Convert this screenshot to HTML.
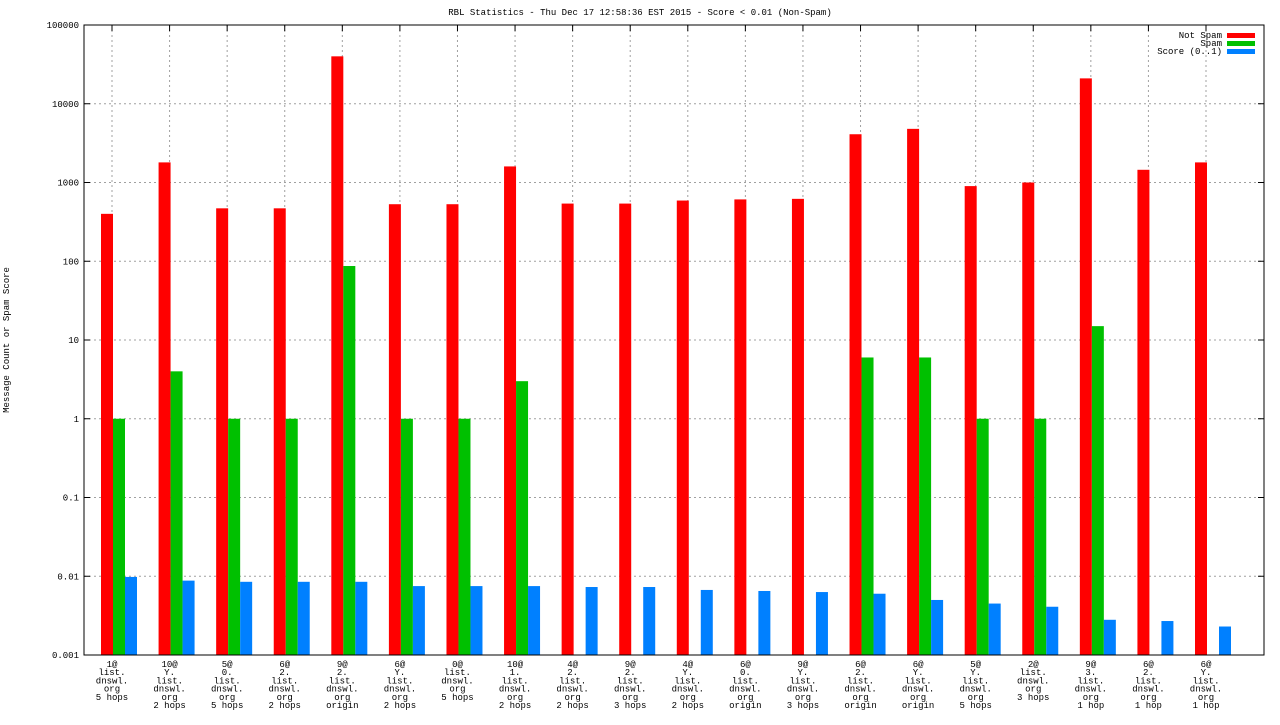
<!DOCTYPE html>
<html><head><meta charset="utf-8"><style>
body{margin:0;background:#fff}
svg text{font-family:"Liberation Mono","DejaVu Sans Mono",monospace;font-size:9px;fill:#000}
</style></head><body>
<svg id="c" width="1280" height="720"></svg>
<script>
const categories=[["1@","list.","dnswl.","org","5 hops"],["10@","Y.","list.","dnswl.","org","2 hops"],["5@","0.","list.","dnswl.","org","5 hops"],["6@","2.","list.","dnswl.","org","2 hops"],["9@","2.","list.","dnswl.","org","origin"],["6@","Y.","list.","dnswl.","org","2 hops"],["0@","list.","dnswl.","org","5 hops"],["10@","1.","list.","dnswl.","org","2 hops"],["4@","2.","list.","dnswl.","org","2 hops"],["9@","2.","list.","dnswl.","org","3 hops"],["4@","Y.","list.","dnswl.","org","2 hops"],["6@","0.","list.","dnswl.","org","origin"],["9@","Y.","list.","dnswl.","org","3 hops"],["6@","2.","list.","dnswl.","org","origin"],["6@","Y.","list.","dnswl.","org","origin"],["5@","Y.","list.","dnswl.","org","5 hops"],["2@","list.","dnswl.","org","3 hops"],["9@","3.","list.","dnswl.","org","1 hop"],["6@","2.","list.","dnswl.","org","1 hop"],["6@","Y.","list.","dnswl.","org","1 hop"]];
const notSpam=[400,1800,470,470,40000,530,530,1600,540,540,590,610,620,4100,4800,900,1000,21000,1450,1800];
const spam=[1,4,1,1,87,1,1,3,0,0,0,0,0,6,6,1,1,15,0,0];
const score=[0.0098,0.0088,0.0085,0.0085,0.0085,0.0075,0.0075,0.0075,0.0073,0.0073,0.0067,0.0065,0.0063,0.006,0.005,0.0045,0.0041,0.0028,0.0027,0.0023];
const yTicks=[0.001,0.01,0.1,1,10,100,1000,10000,100000];
const yTickLabels=["0.001","0.01","0.1","1","10","100","1000","10000","100000"];
const L=84,R=1264,T=25,B=655;
const y=v=>B-(Math.log10(v)+3)/8*(B-T);
const x=i=>112+i*(1206-112)/19;
const svg=document.getElementById('c');const NS="http://www.w3.org/2000/svg";
function el(t,a,txt){const e=document.createElementNS(NS,t);for(const k in a)e.setAttribute(k,a[k]);if(txt!=null)e.textContent=txt;svg.appendChild(e);return e;}
let e;
e=el('text',{x:640,y:15,'text-anchor':'middle'},'RBL Statistics - Thu Dec 17 12:58:36 EST 2015 - Score < 0.01 (Non-Spam)');


e=el('text',{x:9,y:340,'text-anchor':'middle',transform:'rotate(-90 9 340)'},'Message Count or Spam Score');


yTicks.forEach((v,i)=>{const yy=y(v);
 if(i>0&&i<yTicks.length-1){e=el('line',{x1:L,x2:R,y1:yy,y2:yy,stroke:'#a0a0a0','stroke-dasharray':'2,3'});
 
 }
 el('line',{x1:L,x2:L+6,y1:yy,y2:yy,stroke:'#000'});el('line',{x1:R,x2:R-6,y1:yy,y2:yy,stroke:'#000'});
 e=el('text',{x:L-5,y:yy+3,'text-anchor':'end'},yTickLabels[i]);
 
 });
categories.forEach((c,i)=>{const cx=x(i);
 e=el('line',{x1:cx,x2:cx,y1:T,y2:B,stroke:'#a0a0a0','stroke-dasharray':'2,3'});
 
 
 el('line',{x1:cx,x2:cx,y1:T,y2:T+6,stroke:'#000'});el('line',{x1:cx,x2:cx,y1:B,y2:B-6,stroke:'#000'});
 c.forEach((s,j)=>{e=el('text',{x:cx,y:667+j*8.2,'text-anchor':'middle'},s);
 
 });
 const bars=[[notSpam[i],cx-11,'#ff0000','bar-not-spam'],[spam[i],cx+1,'#00c000','bar-spam'],[score[i],cx+13,'#0080ff','bar-score']];
 bars.forEach(b=>{if(b[0]>0){const yy=y(b[0]);e=el('rect',{x:b[1],y:yy,width:12,height:B-yy,fill:b[2]});
 
 }});
});
e=el('rect',{x:L,y:T,width:R-L,height:B-T,fill:'none',stroke:'#000'});


[['Not Spam','#ff0000'],['Spam','#00c000'],['Score (0..1)','#0080ff']].forEach((l,i)=>{const yy=35+i*8;
 e=el('text',{x:1222,y:yy+3,'text-anchor':'end'},l[0]);
 
 
 e=el('rect',{x:1227,y:yy-2,width:28,height:5,fill:l[1]});
 
 });
</script>
</body></html>
